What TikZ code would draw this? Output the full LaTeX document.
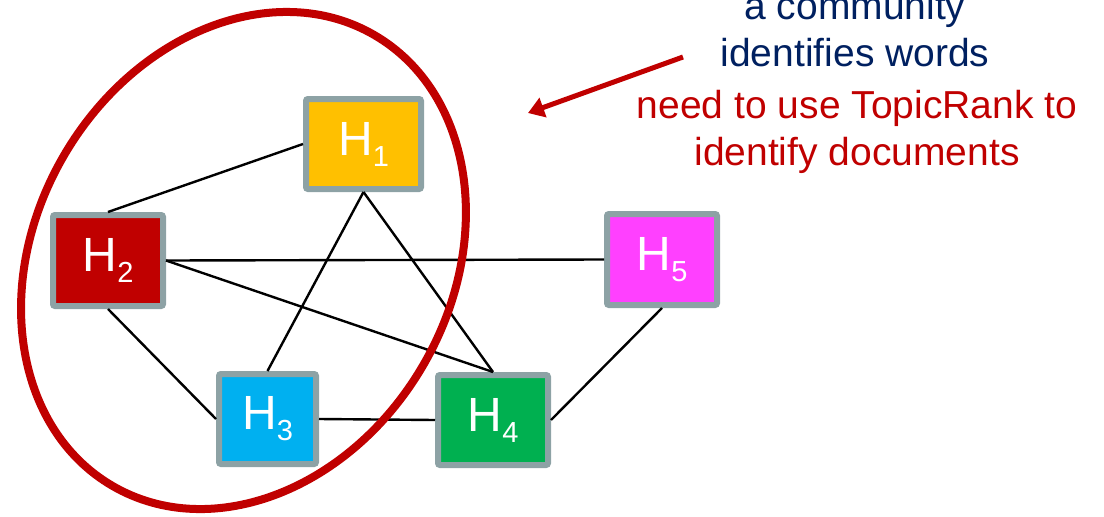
\documentclass[tikz,border=0pt]{standalone}
\usepackage{fontspec}
\setmainfont{Liberation Sans}
\usetikzlibrary{arrows.meta}
\definecolor{hyellow}{HTML}{FFC000}
\definecolor{hred}{HTML}{C00000}
\definecolor{hcyan}{HTML}{00B0F0}
\definecolor{hgreen}{HTML}{00B050}
\definecolor{hmagenta}{HTML}{FF40FF}
\definecolor{hborder}{HTML}{8DA2A5}
\definecolor{navy}{HTML}{002060}
\tikzset{
  hbox/.style={draw=hborder, line width=6pt, rounded corners=2pt, inner sep=0pt,
    minimum width=110pt, minimum height=90pt, text=white,
    font=\fontsize{48}{48}\selectfont},
  edge/.style={draw=black, line width=2.4pt},
  note/.style={align=center, font=\fontsize{39}{47}\selectfont, inner sep=0pt, anchor=base},
}
\newcommand{\hsub}[1]{H\raisebox{-11pt}{\fontsize{29}{29}\selectfont #1}}
\begin{document}
\begin{tikzpicture}[x=1pt,y=-1pt]
\useasboundingbox (0,0) rectangle (1104,517);
\node[hbox, fill=hyellow, minimum width=115pt] (h1) at (363.5,144) {\hsub{1}};
\node[hbox, fill=hred, minimum height=91pt] (h2) at (108,260.5) {\hsub{2}};
\node[hbox, fill=hcyan, minimum width=97pt] (h3) at (267.5,419) {\hsub{3}};
\node[hbox, fill=hgreen] (h4) at (493,420) {\hsub{4}};
\node[hbox, fill=hmagenta, minimum height=91pt] (h5) at (662,259.5) {\hsub{5}};
\draw[edge] (h2.north) -- (h1.west);
\draw[edge] (h2.east) -- (h5.west);
\draw[edge] (h2.east) -- (h4.north);
\draw[edge] (h2.south) -- (h3.west);
\draw[edge] (h1.south) -- (h3.north);
\draw[edge] (h1.south) -- (h4.north);
\draw[edge] (h3.east) -- (h4.west);
\draw[edge] (h4.east) -- (h5.south);
\coordinate (ec) at (243.5,260.5);
\draw[hred, line width=8pt, rotate around={59.9:(ec)}] (ec) ellipse [x radius=260.7pt, y radius=208pt];
\node[note, text=navy] (t1) at (855,66) {a community\\identifies words};
\node[note, text=hred] (t2) at (857,165) {need to use TopicRank to\\identify documents};
\coordinate (as) at (683,57);
\coordinate (ae) at (528,113);
\draw[hred, line width=5pt, -{Triangle[length=16pt,width=20pt]}] (as) -- (ae);
\end{tikzpicture}
\end{document}
